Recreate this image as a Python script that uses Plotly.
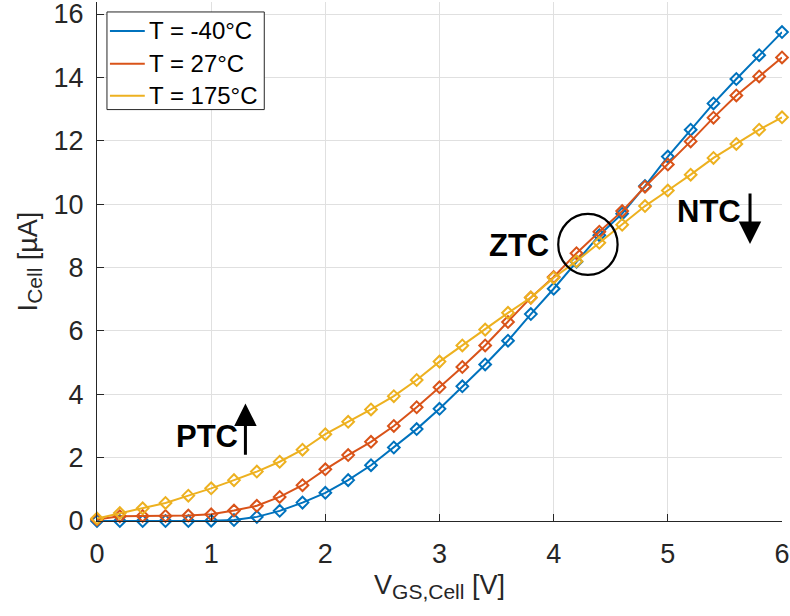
import plotly.graph_objects as go

# Gate-source voltage sweep [V]
v_gs = [0.0, 0.2, 0.4, 0.6, 0.8, 1.0, 1.2, 1.4, 1.6, 1.8, 2.0, 2.2, 2.4, 2.6, 2.8, 3.0,
        3.2, 3.4, 3.6, 3.8, 4.0, 4.2, 4.4, 4.6, 4.8, 5.0, 5.2, 5.4, 5.6, 5.8, 6.0]

# Cell current [uA] at each temperature
i_m40 = [0.0, 0.0, 0.0, 0.0, 0.0, 0.01, 0.03, 0.13, 0.32, 0.58, 0.89, 1.29, 1.76, 2.32, 2.9, 3.54,
         4.25, 4.94, 5.69, 6.53, 7.33, 8.18, 9.02, 9.7, 10.57, 11.5, 12.35, 13.18, 13.95, 14.7, 15.43]
i_27 = [0.05, 0.15, 0.16, 0.16, 0.17, 0.21, 0.33, 0.48, 0.76, 1.13, 1.63, 2.08, 2.5, 3.0, 3.59, 4.22,
        4.86, 5.54, 6.28, 7.05, 7.7, 8.45, 9.13, 9.78, 10.55, 11.25, 11.98, 12.73, 13.43, 14.03, 14.63]
i_175 = [0.08, 0.25, 0.4, 0.57, 0.8, 1.03, 1.29, 1.56, 1.87, 2.25, 2.74, 3.13, 3.52, 3.94, 4.45, 5.03,
         5.54, 6.04, 6.57, 7.05, 7.68, 8.2, 8.78, 9.35, 9.94, 10.43, 10.93, 11.46, 11.9, 12.35, 12.74]

series_names = ["T = -40°C", "T = 27°C", "T = 175°C"]
series_colors = ["#0072BD", "#D95319", "#EDB120"]
series_values = [i_m40, i_27, i_175]

FONT = "Liberation Sans, Arial, sans-serif"
AX = "#262626"
GRID = "#e0e0e0"

W, H = 790, 616
M_L, M_R, M_T, M_B = 97, 5, 0, 95
PLOT_W = W - M_L - M_R
PLOT_H = H - M_T - M_B


def px_x(p):
    """pixel column -> paper x"""
    return (p - M_L) / PLOT_W


def px_y(p):
    """pixel row -> paper y"""
    return (H - M_B - p) / PLOT_H


fig = go.Figure()

for name, color, vals in zip(series_names, series_colors, series_values):
    fig.add_trace(go.Scatter(
        x=v_gs, y=vals, mode="lines+markers", name=name, showlegend=False,
        line=dict(color=color, width=2),
        marker=dict(symbol="diamond-open", size=9, color=color, line=dict(width=2, color=color)),
        cliponaxis=False,
    ))

# legend box: line samples with labels
fig.add_shape(type="rect", xref="paper", yref="paper",
              x0=px_x(107), x1=px_x(265), y0=px_y(108), y1=px_y(10),
              line=dict(color=AX, width=1), fillcolor="white", layer="above")
row_y = [29, 62, 94]
for name, color, ry in zip(series_names, series_colors, row_y):
    fig.add_shape(type="line", xref="paper", yref="paper",
                  x0=px_x(110), x1=px_x(145), y0=px_y(ry), y1=px_y(ry),
                  line=dict(color=color, width=2), layer="above")
    fig.add_annotation(xref="paper", yref="paper", x=px_x(147), y=px_y(ry),
                       xanchor="left", yanchor="middle", text=name, showarrow=False,
                       font=dict(family=FONT, size=24, color="black"))

# ZTC circle around the temperature-compensation point
fig.add_shape(type="circle", xref="x", yref="y",
              x0=4.04, x1=4.56, y0=7.77, y1=9.69,
              line=dict(color="black", width=2.2))

ann_font = dict(family=FONT, size=31, color="black")
fig.add_annotation(x=0.96, y=2.67, text="<b>PTC</b>", showarrow=False, font=ann_font)
fig.add_annotation(x=3.70, y=8.68, text="<b>ZTC</b>", showarrow=False, font=ann_font)
fig.add_annotation(x=5.36, y=9.78, text="<b>NTC</b>", showarrow=False, font=ann_font)

# PTC arrow (up) and NTC arrow (down)
fig.add_annotation(x=1.30, y=3.71, ax=1.30, ay=2.04, xref="x", yref="y", axref="x", ayref="y",
                   text="", showarrow=True, arrowhead=2, arrowsize=1.5, arrowwidth=3, arrowcolor="black")
fig.add_annotation(x=5.72, y=8.74, ax=5.72, ay=10.38, xref="x", yref="y", axref="x", ayref="y",
                   text="", showarrow=True, arrowhead=2, arrowsize=1.5, arrowwidth=3, arrowcolor="black")

fig.update_layout(
    width=W, height=H,
    margin=dict(l=M_L, r=M_R, t=M_T, b=M_B),
    paper_bgcolor="white", plot_bgcolor="white",
    font=dict(family=FONT, size=24, color=AX),
    showlegend=False,
)

fig.update_xaxes(
    range=[0, 6], tickvals=[0, 1, 2, 3, 4, 5, 6],
    showgrid=True, gridcolor=GRID, gridwidth=1,
    showline=True, linecolor=AX, linewidth=1,
    ticks="inside", ticklen=7, tickcolor=AX,
    zeroline=False, ticklabelstandoff=9, ticklabeloverflow="allow",
    tickfont=dict(family=FONT, size=27, color=AX),
    title=dict(text="V<sub><span style='font-size:21px'>GS,Cell</span></sub> [V]",
               font=dict(family=FONT, size=27, color=AX), standoff=6),
)
fig.update_yaxes(
    range=[0, 16.38], tickvals=[0, 2, 4, 6, 8, 10, 12, 14, 16],
    showgrid=True, gridcolor=GRID, gridwidth=1,
    showline=True, linecolor=AX, linewidth=1,
    ticks="inside", ticklen=7, tickcolor=AX,
    zeroline=False, ticklabelstandoff=7, ticklabeloverflow="allow",
    tickfont=dict(family=FONT, size=27, color=AX),
    title=dict(text="I<sub><span style='font-size:21px'>Cell</span></sub> [µA]",
               font=dict(family=FONT, size=27, color=AX), standoff=8),
)

fig.write_html("out.html")
